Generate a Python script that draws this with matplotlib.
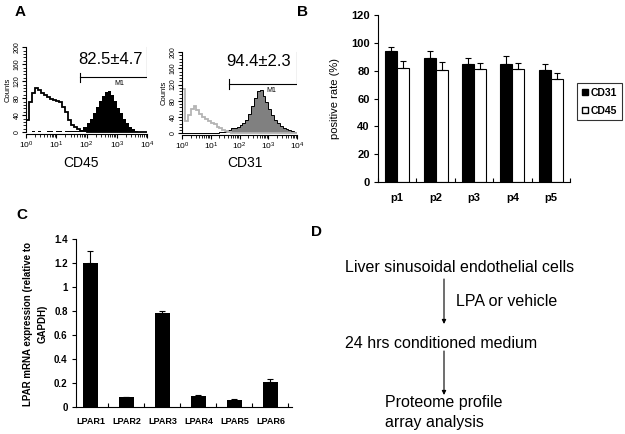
import numpy as np
import matplotlib
matplotlib.use("Agg")
import matplotlib.pyplot as plt
from matplotlib.patches import Patch, FancyArrowPatch
from matplotlib.ticker import MultipleLocator, LogLocator, NullFormatter

plt.rcParams['font.family'] = ['Liberation Sans', 'DejaVu Sans']

# ---------------- data ----------------
# Panel A: flow histograms, counts per 0.1-decade bin from 10^0 to 10^4
cd45_isotype = [30, 70, 92, 103, 100, 92, 87, 82, 79, 76, 74, 72, 60, 48, 30, 18, 12, 7, 4, 2,
                1, 0, 0, 0, 0, 0, 0, 0, 0, 0, 0, 0, 0, 0, 0, 0, 0, 0, 0, 0]
cd45_stained = [1, 1, 2, 1, 2, 1, 1, 2, 2, 1, 2, 2, 1, 2, 2, 3, 3, 3, 6, 12,
                22, 32, 45, 60, 74, 85, 95, 96, 88, 73, 58, 45, 32, 22, 13, 7, 3, 1, 0, 0]
cd31_isotype = [110, 30, 45, 60, 67, 58, 47, 40, 35, 30, 26, 22, 16, 12, 8, 5, 3, 2, 1, 0,
                0, 0, 0, 0, 0, 0, 0, 0, 0, 0, 0, 0, 0, 0, 0, 0, 0, 0, 0, 0]
cd31_stained = [2, 1, 1, 2, 1, 1, 2, 1, 2, 2, 2, 2, 2, 3, 4, 6, 9, 12, 13, 16,
                20, 26, 33, 48, 68, 88, 105, 106, 92, 76, 60, 45, 34, 26, 19, 14, 11, 8, 6, 4]
cd45_label = "82.5±4.7"
cd31_label = "94.4±2.3"

# Panel B
passages = ["p1", "p2", "p3", "p4", "p5"]
cd31_rate = [94, 89, 85, 84.5, 80.5]
cd31_err = [3, 5, 4, 6, 4]
cd45_rate = [82, 80.5, 81.5, 81, 74]
cd45_err = [5, 5.5, 4, 4.5, 4]

# Panel C
receptors = ["LPAR1", "LPAR2", "LPAR3", "LPAR4", "LPAR5", "LPAR6"]
lpar_expr = [1.2, 0.08, 0.78, 0.09, 0.055, 0.21]
lpar_err = [0.1, 0.005, 0.02, 0.01, 0.01, 0.025]

# ---------------- figure ----------------
W, H = 625, 434
fig = plt.figure(figsize=(6.25, 4.34), dpi=100)

def rect(x0, y0, x1, y1):
    return [x0 / W, 1 - y1 / H, (x1 - x0) / W, (y1 - y0) / H]

def fx(x):
    return x / W

def fy(y):
    return 1 - y / H

edges = np.logspace(0, 4, 41)

def style_hist(ax):
    ax.set_xscale('log')
    ax.set_xlim(1, 1e4)
    ax.set_ylim(-4, 205)
    for s in ['top', 'right']:
        ax.spines[s].set_visible(False)
    ax.spines['left'].set_bounds(0, 200)
    ax.set_yticks([0, 40, 80, 120, 160, 200])
    ax.yaxis.set_minor_locator(MultipleLocator(8))
    ax.tick_params(axis='y', which='major', labelsize=5, length=3, width=0.8, pad=1)
    ax.tick_params(axis='y', which='minor', length=2, width=0.6)
    for lab in ax.get_yticklabels():
        lab.set_rotation(90)
        lab.set_va('center')
    ax.xaxis.set_major_locator(LogLocator(base=10, numticks=10))
    ax.xaxis.set_minor_locator(LogLocator(base=10, subs=np.arange(2, 10), numticks=20))
    ax.xaxis.set_minor_formatter(NullFormatter())
    ax.tick_params(axis='x', which='major', labelsize=6, length=3, width=0.8, pad=1)
    ax.tick_params(axis='x', which='minor', length=2, width=0.6)
    ax.set_ylabel('Counts', fontsize=5.5, labelpad=1)

# Left histogram (CD45)
axA1 = fig.add_axes(rect(26, 45, 147, 134))
axA1.stairs(cd45_stained, edges, fill=True, color='black')
axA1.stairs(cd45_isotype, edges, color='black', lw=1.3)
style_hist(axA1)
axA1.plot([10**1.79, 1e4], [130, 130], color='black', lw=0.8)
axA1.plot([10**1.79, 10**1.79], [119, 140], color='black', lw=0.8)
axA1.plot([1e4, 1e4], [130, 200], color='black', lw=0.8)
axA1.text(10**2.8, 172, cd45_label, fontsize=12, ha='center', va='center')
axA1.text(10**3.1, 114, 'M1', fontsize=5, ha='center', va='center')

# Right histogram (CD31)
axA2 = fig.add_axes(rect(182, 50, 297, 135))
axA2.stairs(cd31_stained, edges, fill=True, color='#808080')
axA2.stairs(cd31_stained, edges, color='black', lw=0.7)
axA2.stairs(cd31_isotype, edges, color='#b4b4b4', lw=1.3)
style_hist(axA2)
axA2.plot([10**1.63, 1e4], [122, 122], color='black', lw=0.8)
axA2.plot([10**1.63, 10**1.63], [110, 134], color='black', lw=0.8)
axA2.plot([1e4, 1e4], [122, 200], color='black', lw=0.8)
axA2.text(10**2.68, 176, cd31_label, fontsize=12, ha='center', va='center')
axA2.text(10**3.1, 106, 'M1', fontsize=5, ha='center', va='center')

fig.text(fx(81), fy(163), 'CD45', fontsize=10, ha='center', va='center')
fig.text(fx(245), fy(163), 'CD31', fontsize=10, ha='center', va='center')

# Panel B
axB = fig.add_axes(rect(378, 15, 570, 182))
x = np.arange(len(passages))
w = 0.31
axB.bar(x - w / 2, cd31_rate, w, color='black', edgecolor='black', lw=0.8)
axB.bar(x + w / 2, cd45_rate, w, color='white', edgecolor='black', lw=0.8)
axB.errorbar(x - w / 2, cd31_rate, yerr=[np.zeros(5), cd31_err], fmt='none',
             ecolor='black', elinewidth=0.8, capsize=2.5, capthick=0.8)
axB.errorbar(x + w / 2, cd45_rate, yerr=[np.zeros(5), cd45_err], fmt='none',
             ecolor='black', elinewidth=0.8, capsize=2.5, capthick=0.8)
axB.set_xlim(-0.5, 4.5)
axB.set_ylim(0, 120)
axB.set_yticks(range(0, 121, 20))
for s in ['top', 'right']:
    axB.spines[s].set_visible(False)
axB.set_xticks(np.arange(-0.5, 4.6, 1.0))
axB.set_xticklabels([])
axB.set_xticks(x, minor=True)
axB.set_xticklabels(passages, minor=True, fontsize=8, fontweight='bold')
axB.tick_params(axis='x', which='major', direction='in', length=3, width=0.8)
axB.tick_params(axis='x', which='minor', length=0, pad=8)
axB.tick_params(axis='y', labelsize=8, length=3, width=0.8, pad=3)
for lab in axB.get_yticklabels():
    lab.set_fontweight('bold')
axB.set_ylabel('positive rate (%)', fontsize=8, labelpad=8)
handles = [Patch(facecolor='black', edgecolor='black', label='CD31'),
           Patch(facecolor='white', edgecolor='black', label='CD45')]
leg = fig.legend(handles=handles, loc='upper left', bbox_to_anchor=(fx(577), fy(83)),
                 prop={'size': 7.5, 'weight': 'bold'}, frameon=True, fancybox=False,
                 edgecolor='black', handlelength=0.6, handleheight=0.6, handletextpad=0.25,
                 labelspacing=0.75, borderpad=0.45, borderaxespad=0)
leg.get_frame().set_linewidth(0.8)

# Panel C
axC = fig.add_axes(rect(76, 239, 292, 407))
xc = np.arange(len(receptors))
axC.bar(xc, lpar_expr, 0.42, color='black')
axC.errorbar(xc, lpar_expr, yerr=[np.zeros(6), lpar_err], fmt='none',
             ecolor='black', elinewidth=0.8, capsize=2.5, capthick=0.8)
axC.set_xlim(-0.4, 5.6)
axC.set_ylim(0, 1.4)
axC.set_yticks([0, 0.2, 0.4, 0.6, 0.8, 1.0, 1.2, 1.4])
axC.set_yticklabels(['0', '0.2', '0.4', '0.6', '0.8', '1', '1.2', '1.4'],
                    fontsize=7, fontweight='bold')
for s in ['top', 'right']:
    axC.spines[s].set_visible(False)
axC.set_xticks(np.arange(0.5, 5.6, 1.0))
axC.set_xticklabels([])
axC.set_xticks(xc, minor=True)
axC.set_xticklabels(receptors, minor=True, fontsize=6.5, fontweight='bold')
axC.tick_params(axis='x', which='major', direction='in', length=3, width=0.8)
axC.tick_params(axis='x', which='minor', length=0, pad=7)
axC.tick_params(axis='y', length=3, width=0.8, pad=3)
fig.text(fx(35.5), fy(324), 'LPAR mRNA expression (relative to\nGAPDH)', fontsize=7,
         fontweight='bold', rotation=90, ha='center', va='center',
         multialignment='center', linespacing=1.5)

# Panel D flowchart
fs = 11.5
fig.text(fx(345), fy(267), 'Liver sinusoidal endothelial cells', fontsize=fs, va='center')
fig.text(fx(456), fy(302), 'LPA or vehicle', fontsize=fs, va='center')
fig.text(fx(345), fy(343), '24 hrs conditioned medium', fontsize=fs, va='center')
fig.text(fx(385), fy(403), 'Proteome profile', fontsize=fs, va='center')
fig.text(fx(385), fy(423), 'array analysis', fontsize=fs, va='center')
for y0, y1 in [(279, 324), (351, 395)]:
    fig.add_artist(FancyArrowPatch(
        (fx(444), fy(y0)), (fx(444), fy(y1)), transform=fig.transFigure,
        arrowstyle='-|>', mutation_scale=6, lw=0.8, color='black',
        shrinkA=0, shrinkB=0))

# Panel labels
for lbl, px, py in [('A', 20, 12), ('B', 303, 12), ('C', 22, 215), ('D', 316, 232)]:
    fig.text(fx(px), fy(py), lbl, fontsize=11, fontweight='bold', ha='center', va='center')

fig.savefig('out.png', dpi=100)
